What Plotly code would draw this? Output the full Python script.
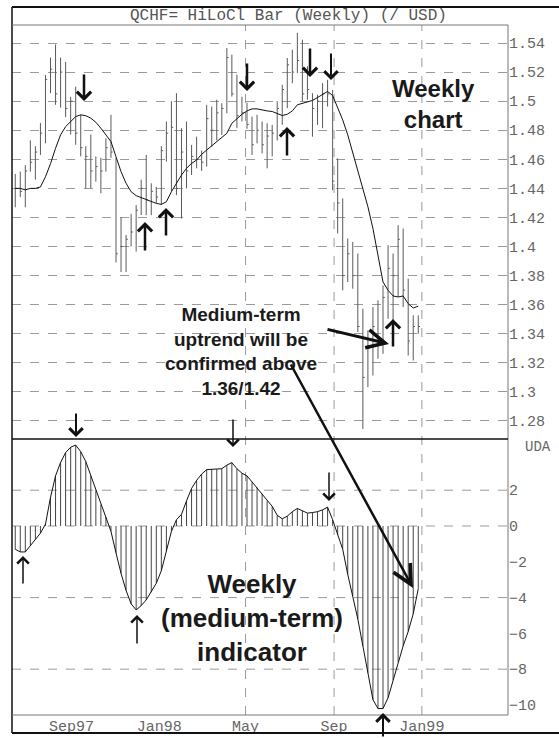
import pandas as pd
import plotly.graph_objects as go
from plotly.subplots import make_subplots

# Weekly bars, CHF per USD
WEEKS = pd.date_range('1997-06-15', periods=81, freq='7D')

HIGH = [1.450, 1.4515, 1.456, 1.473, 1.469, 1.485, 1.518, 1.530, 1.539, 1.530,
        1.527, 1.503, 1.510, 1.4906, 1.469, 1.477, 1.462, 1.461, 1.4745, 1.4906,
        1.461, 1.420, 1.408, 1.4225, 1.4285, 1.446, 1.463, 1.4435, 1.441, 1.469,
        1.486, 1.500, 1.5055, 1.4814, 1.486, 1.4699, 1.4756, 1.466, 1.4975, 1.4963,
        1.501, 1.4986, 1.5366, 1.532, 1.5182, 1.503, 1.499, 1.4894, 1.4906, 1.486,
        1.4848, 1.4837, 1.500, 1.5113, 1.5297, 1.5354, 1.547, 1.5423, 1.524, 1.5055,
        1.5044, 1.5124, 1.5147, 1.5078, 1.4607, 1.4331, 1.4055, 1.4032, 1.3952, 1.3573,
        1.3423, 1.3584, 1.363, 1.3733, 1.4009, 1.3952, 1.4147, 1.4124, 1.3779, 1.3527,
        1.3527]
LOW = [1.427, 1.434, 1.427, 1.4515, 1.446, 1.463, 1.471, 1.5055, 1.4975, 1.4956,
       1.489, 1.477, 1.470, 1.462, 1.440, 1.440, 1.4446, 1.4366, 1.4515, 1.461,
       1.389, 1.3825, 1.3825, 1.400, 1.3965, 1.4216, 1.4216, 1.4216, 1.430, 1.4285,
       1.4584, 1.4377, 1.4354, 1.4193, 1.440, 1.4492, 1.4538, 1.452, 1.455, 1.4687,
       1.473, 1.4768, 1.4917, 1.5032, 1.4814, 1.486, 1.481, 1.463, 1.471, 1.4641,
       1.4538, 1.462, 1.473, 1.4837, 1.4952, 1.5124, 1.5193, 1.500, 1.501, 1.4756,
       1.4837, 1.4814, 1.4963, 1.4388, 1.409, 1.3699, 1.3756, 1.371, 1.3412, 1.2745,
       1.3032, 1.3113, 1.3228, 1.3262, 1.3503, 1.3377, 1.3653, 1.3584, 1.325, 1.3216,
       1.340]
CLOSE = [1.440, 1.438, 1.452, 1.458, 1.465, 1.478, 1.515, 1.522, 1.505, 1.520,
         1.495, 1.500, 1.478, 1.468, 1.462, 1.452, 1.455, 1.452, 1.468, 1.465,
         1.395, 1.400, 1.405, 1.410, 1.425, 1.440, 1.432, 1.438, 1.434, 1.466,
         1.478, 1.482, 1.440, 1.465, 1.452, 1.462, 1.460, 1.458, 1.488, 1.480,
         1.492, 1.495, 1.530, 1.505, 1.490, 1.492, 1.484, 1.470, 1.480, 1.470,
         1.476, 1.478, 1.495, 1.508, 1.525, 1.520, 1.528, 1.505, 1.508, 1.495,
         1.500, 1.505, 1.505, 1.445, 1.430, 1.380, 1.395, 1.380, 1.345, 1.310,
         1.330, 1.345, 1.335, 1.365, 1.385, 1.380, 1.405, 1.370, 1.335, 1.345,
         1.345]
AVG = [1.440, 1.440, 1.439, 1.440, 1.440, 1.441, 1.448, 1.457, 1.4676, 1.4768,
       1.4825, 1.486, 1.4894, 1.4906, 1.490, 1.4883, 1.4855, 1.4814, 1.4768, 1.4722,
       1.4618, 1.4515, 1.4435, 1.4377, 1.435, 1.4336, 1.4327, 1.4313, 1.4297, 1.429,
       1.4308, 1.4377, 1.4435, 1.4492, 1.4538, 1.4572, 1.4595, 1.4634, 1.4664, 1.4694,
       1.4722, 1.4749, 1.4779, 1.4848, 1.4878, 1.491, 1.4933, 1.4947, 1.4947, 1.4938,
       1.4933, 1.4929, 1.4917, 1.4901, 1.491, 1.4933, 1.4975, 1.4986, 1.4998, 1.5005,
       1.5025, 1.5048, 1.5067, 1.5039, 1.4952, 1.4871, 1.4768, 1.4641, 1.4515, 1.440,
       1.4274, 1.4124, 1.394, 1.3756, 1.3699, 1.366, 1.3653, 1.366, 1.3607, 1.3577,
       1.359]
UDA = [-1.3, -1.45, -1.45, -1.1, -0.75, -0.4, 0.1, 1.6, 2.8, 3.55,
       4.1, 4.4, 4.52, 4.15, 3.6, 2.8, 2.0, 1.2, 0.5, -0.3,
       -1.5, -2.65, -3.6, -4.35, -4.69, -4.45, -4.13, -3.7, -3.2, -2.5,
       -1.4, -0.3, 0.35, 0.65, 1.4, 2.1, 2.55, 2.9, 3.15, 3.17,
       3.17, 3.2, 3.4, 3.54, 3.2, 2.95, 2.8, 2.45, 2.15, 1.8,
       1.4, 1.1, 0.6, 0.4, 0.55, 0.8, 0.98, 0.85, 0.72, 0.75,
       0.8, 0.9, 1.05, 0.35, -0.5, -1.3, -2.7, -3.9, -5.2, -6.7,
       -8.2, -9.7, -10.2, -10.2, -9.6, -8.6, -7.6, -6.7, -5.9, -4.9,
       -3.5]

DATE_TICKS = ['1997-09-01', '1998-01-01', '1998-05-01', '1998-09-01', '1999-01-01']
DATE_LABELS = ['Sep97', 'Jan98', 'May', 'Sep', 'Jan99']
GRID_DATES = ['1998-05-01', '1998-09-01', '1999-01-01']
PRICE_TICKS = [1.28, 1.30, 1.32, 1.34, 1.36, 1.38, 1.40, 1.42, 1.44, 1.46, 1.48, 1.50, 1.52, 1.54]
PRICE_LABELS = ['1.28', '1.3', '1.32', '1.34', '1.36', '1.38', '1.4', '1.42', '1.44', '1.46',
                '1.48', '1.5', '1.52', '1.54']
UDA_TICKS = [2, 0, -2, -4, -6, -8, -10]
UDA_GRID = [2, 0, -4, -8]

W, H = 559, 738
MONO = 'Liberation Mono'
SANS = 'Liberation Sans'


def fx(x):
    return x / W


def fy(y):
    return 1 - y / H


def ts(d):
    return pd.Timestamp(d).strftime('%Y-%m-%d %H:%M')


fig = make_subplots(rows=2, cols=1, shared_xaxes=True, vertical_spacing=0)

# HiLoCl bars
bx, by = [], []
for d, hi, lo, cl in zip(WEEKS, HIGH, LOW, CLOSE):
    bx += [ts(d), ts(d), None, ts(d), ts(d + pd.Timedelta(hours=60)), None]
    by += [lo, hi, None, cl, cl, None]
fig.add_trace(go.Scatter(x=bx, y=by, mode='lines', line=dict(color='#5a5a5a', width=1),
                         hoverinfo='skip', showlegend=False), row=1, col=1)
fig.add_trace(go.Scatter(x=[ts(d) for d in WEEKS], y=AVG, mode='lines',
                         line=dict(color='#111', width=1), showlegend=False), row=1, col=1)

# indicator, hatched to zero
hx, hy = [], []
for d, v in zip(WEEKS, UDA):
    hx += [ts(d), ts(d), None]
    hy += [0, v, None]
fig.add_trace(go.Scatter(x=hx, y=hy, mode='lines', line=dict(color='#444', width=1),
                         hoverinfo='skip', showlegend=False), row=2, col=1)
fig.add_trace(go.Scatter(x=[ts(d) for d in WEEKS], y=UDA, mode='lines',
                         line=dict(color='#111', width=1), showlegend=False), row=2, col=1)

tick_font = dict(family=MONO, size=15, color='#666')
fig.update_xaxes(range=['1997-06-10 12:00', '1999-04-30 16:00'], domain=[fx(12), fx(508)],
                 showgrid=False, zeroline=False, showline=False, ticks='',
                 tickvals=DATE_TICKS, ticktext=DATE_LABELS, tickfont=tick_font)
fig.update_xaxes(showticklabels=False, row=1, col=1)
fig.update_yaxes(range=[1.2676, 1.5524], domain=[fy(439), fy(25)], side='right',
                 tickvals=PRICE_TICKS, ticktext=PRICE_LABELS, tickfont=tick_font,
                 showgrid=True, gridcolor='#9a9a9a', griddash='dash', gridwidth=1,
                 zeroline=False, showline=False, ticks='', row=1, col=1)
fig.update_yaxes(range=[-10.56, 4.86], domain=[fy(715), fy(439)], side='right',
                 tickvals=UDA_TICKS, tickfont=tick_font, showgrid=False,
                 zeroline=False, showline=False, ticks='', row=2, col=1)

shapes = []
for d in GRID_DATES:
    shapes.append(dict(type='line', xref='x', yref='paper', x0=d, x1=d, y0=fy(715), y1=fy(25),
                       line=dict(color='#9a9a9a', width=1, dash='dash'), layer='below'))
for v in UDA_GRID:
    shapes.append(dict(type='line', xref='paper', yref='y2', x0=fx(12), x1=fx(508), y0=v, y1=v,
                       line=dict(color='#9a9a9a', width=1, dash='dash'), layer='below'))

# frame
frame = [
    (12, 7, 559, 7, '#111', 2),
    (12, 733, 559, 733, '#111', 2),
    (12, 7, 12, 733, '#111', 1.5),
    (12, 25, 508, 25, '#777', 1),
    (508, 25, 508, 715, '#777', 1),
    (12, 715, 508, 715, '#777', 1),
    (12, 439, 508, 439, '#111', 1.5),
]
for x0, y0, x1, y1, c, w in frame:
    shapes.append(dict(type='line', xref='paper', yref='paper', x0=fx(x0), y0=fy(y0),
                       x1=fx(x1), y1=fy(y1), line=dict(color=c, width=w)))

annotations = [
    dict(text='QCHF= HiLoCl Bar (Weekly) (/ USD)', x=fx(289), y=fy(16),
         font=dict(family=MONO, size=16, color='#555')),
    dict(text='UDA', x=fx(538), y=fy(447), font=dict(family=MONO, size=14, color='#666')),
    dict(text='Weekly<br>chart', x=fx(433), y=fy(104),
         font=dict(family=SANS, size=24, color='#1a1a1a', weight='bold')),
    dict(text='Medium-term<br>uptrend will be<br>confirmed above<br>1.36/1.42', x=fx(241), y=fy(351),
         font=dict(family=SANS, size=19, color='#1a1a1a', weight='bold')),
    dict(text='Weekly<br>(medium-term)<br>indicator', x=fx(252), y=fy(618),
         font=dict(family=SANS, size=26, color='#1a1a1a', weight='bold')),
]
for a in annotations:
    a.update(xref='paper', yref='paper', showarrow=False, xanchor='center', yanchor='middle')

# arrows: head x, head y, tail x, tail y, line width, head style, head size
arrows = [
    (84, 101, 84, 73, 2.5, 4, 1.1),
    (145, 222, 145, 252, 2.5, 4, 1.1),
    (166, 208, 166, 237, 2.5, 4, 1.1),
    (247, 91, 247, 62, 2.5, 4, 1.1),
    (287, 127, 287, 157, 2.5, 4, 1.1),
    (310, 77, 310, 47, 2.5, 4, 1.1),
    (331, 80, 331, 52, 2, 4, 1.3),
    (393, 319, 393, 348, 2.5, 4, 1.1),
    (23, 556, 23, 585, 1.5, 4, 1.5),
    (76, 437, 76, 412, 2, 4, 1.3),
    (137, 615, 137, 645, 1.5, 4, 1.5),
    (233, 447, 233, 418, 1.5, 4, 1.5),
    (329, 501, 329, 471, 1.5, 4, 1.5),
    (383, 713, 383, 738, 2, 4, 1.3),
    (389, 344, 326, 329, 3, 5, 1.2),
    (413, 588, 290, 363, 2.5, 5, 1.5),
]
for hx_, hy_, tx, ty, w, head, size in arrows:
    annotations.append(dict(text='', xref='paper', yref='paper', x=fx(hx_), y=fy(hy_),
                            ax=tx - hx_, ay=ty - hy_, showarrow=True, arrowhead=head,
                            arrowsize=size, arrowwidth=w, arrowcolor='#111', standoff=0))

fig.update_layout(width=W, height=H, margin=dict(l=0, r=0, t=0, b=0),
                  paper_bgcolor='white', plot_bgcolor='white', showlegend=False,
                  shapes=shapes, annotations=annotations)

# the page's default body margin would push the figure off the window
fig.write_html("out.html", config={'displayModeBar': False},
               post_script="document.body.style.margin = '0';")
